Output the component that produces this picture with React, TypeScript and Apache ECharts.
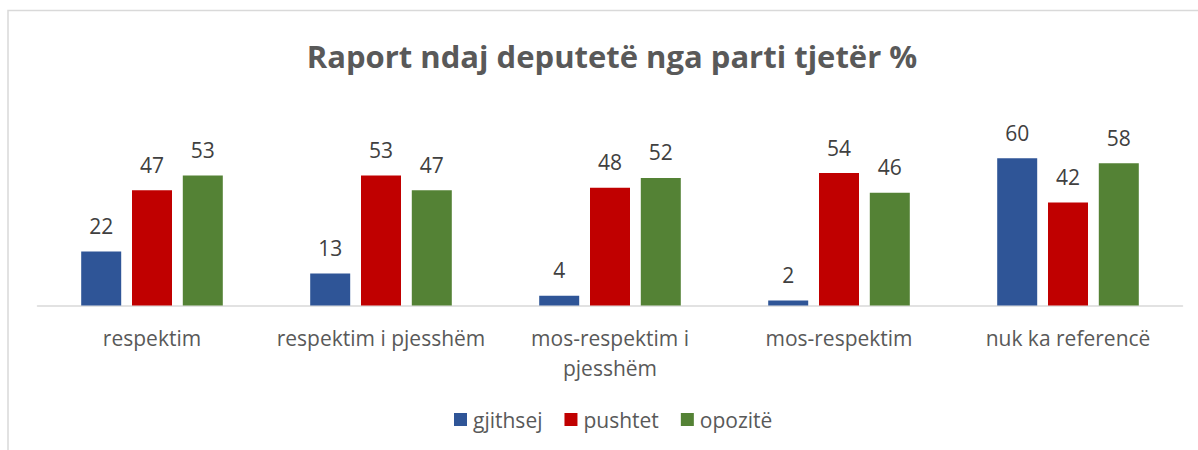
import React, { useEffect, useRef } from "react";
import * as echarts from "echarts";

const titleText = "Raport ndaj deputetë nga parti tjetër %";
const categories = [
  "respektim",
  "respektim i pjesshëm",
  "mos-respektim i\npjesshëm",
  "mos-respektim",
  "nuk ka referencë",
];
const seriesNames = ["gjithsej", "pushtet", "opozitë"];
const gjithsej = [22, 13, 4, 2, 60];
const pushtet = [47, 53, 48, 54, 42];
const opozite = [53, 47, 52, 46, 58];
const colors = ["#2F5597", "#C00000", "#548235"];

const FONT = "Open Sans";

export default function App() {
  const ref = useRef<HTMLDivElement>(null);
  useEffect(() => {
    if (!ref.current) return;
    const chart = echarts.init(ref.current, undefined, { renderer: "svg" });
    const values = [gjithsej, pushtet, opozite];
    chart.setOption({
      animation: false,
      backgroundColor: "#ffffff",
      title: {
        text: titleText,
        left: 607,
        textAlign: "center",
        top: 35,
        textStyle: {
          fontFamily: FONT,
          fontWeight: "bold",
          fontSize: 31,
          color: "#595959",
        },
      },
      graphic: [
        {
          type: "rect",
          shape: { x: 8, y: 10.5, width: 1400, height: 600 },
          style: { fill: "none", stroke: "#d9d9d9", lineWidth: 1.5 },
          silent: true,
        },
      ],
      legend: {
        top: 409,
        left: 454,
        padding: 0,
        itemWidth: 13,
        itemHeight: 13,
        itemGap: 22,
        icon: "rect",
        textStyle: { fontFamily: FONT, fontSize: 21, color: "#595959", padding: [0, 0, 0, 1] },
        data: seriesNames,
      },
      grid: { left: 37.5, right: 15.5, top: 133.8, bottom: 144.5 },
      xAxis: {
        type: "category",
        data: categories,
        axisLine: { lineStyle: { color: "#d9d9d9", width: 1.5 } },
        axisTick: { show: false },
        axisLabel: {
          fontFamily: FONT,
          fontSize: 21,
          color: "#595959",
          margin: 17,
          lineHeight: 30,
          interval: 0,
        },
      },
      yAxis: {
        type: "value",
        min: 0,
        max: 70,
        show: false,
        splitLine: { show: false },
      },
      series: seriesNames.map((name, i) => ({
        name,
        type: "bar",
        data: values[i],
        barWidth: 40,
        barGap: "27%",
        itemStyle: { color: colors[i] },
        label: {
          show: true,
          position: "top",
          distance: 15,
          fontFamily: FONT,
          fontSize: 21,
          color: "#404040",
        },
      })),
    });
    return () => chart.dispose();
  }, []);
  return (
    <div
      ref={ref}
      style={{ position: "absolute", left: 0, top: 0, width: 1198, height: 450 }}
    />
  );
}
